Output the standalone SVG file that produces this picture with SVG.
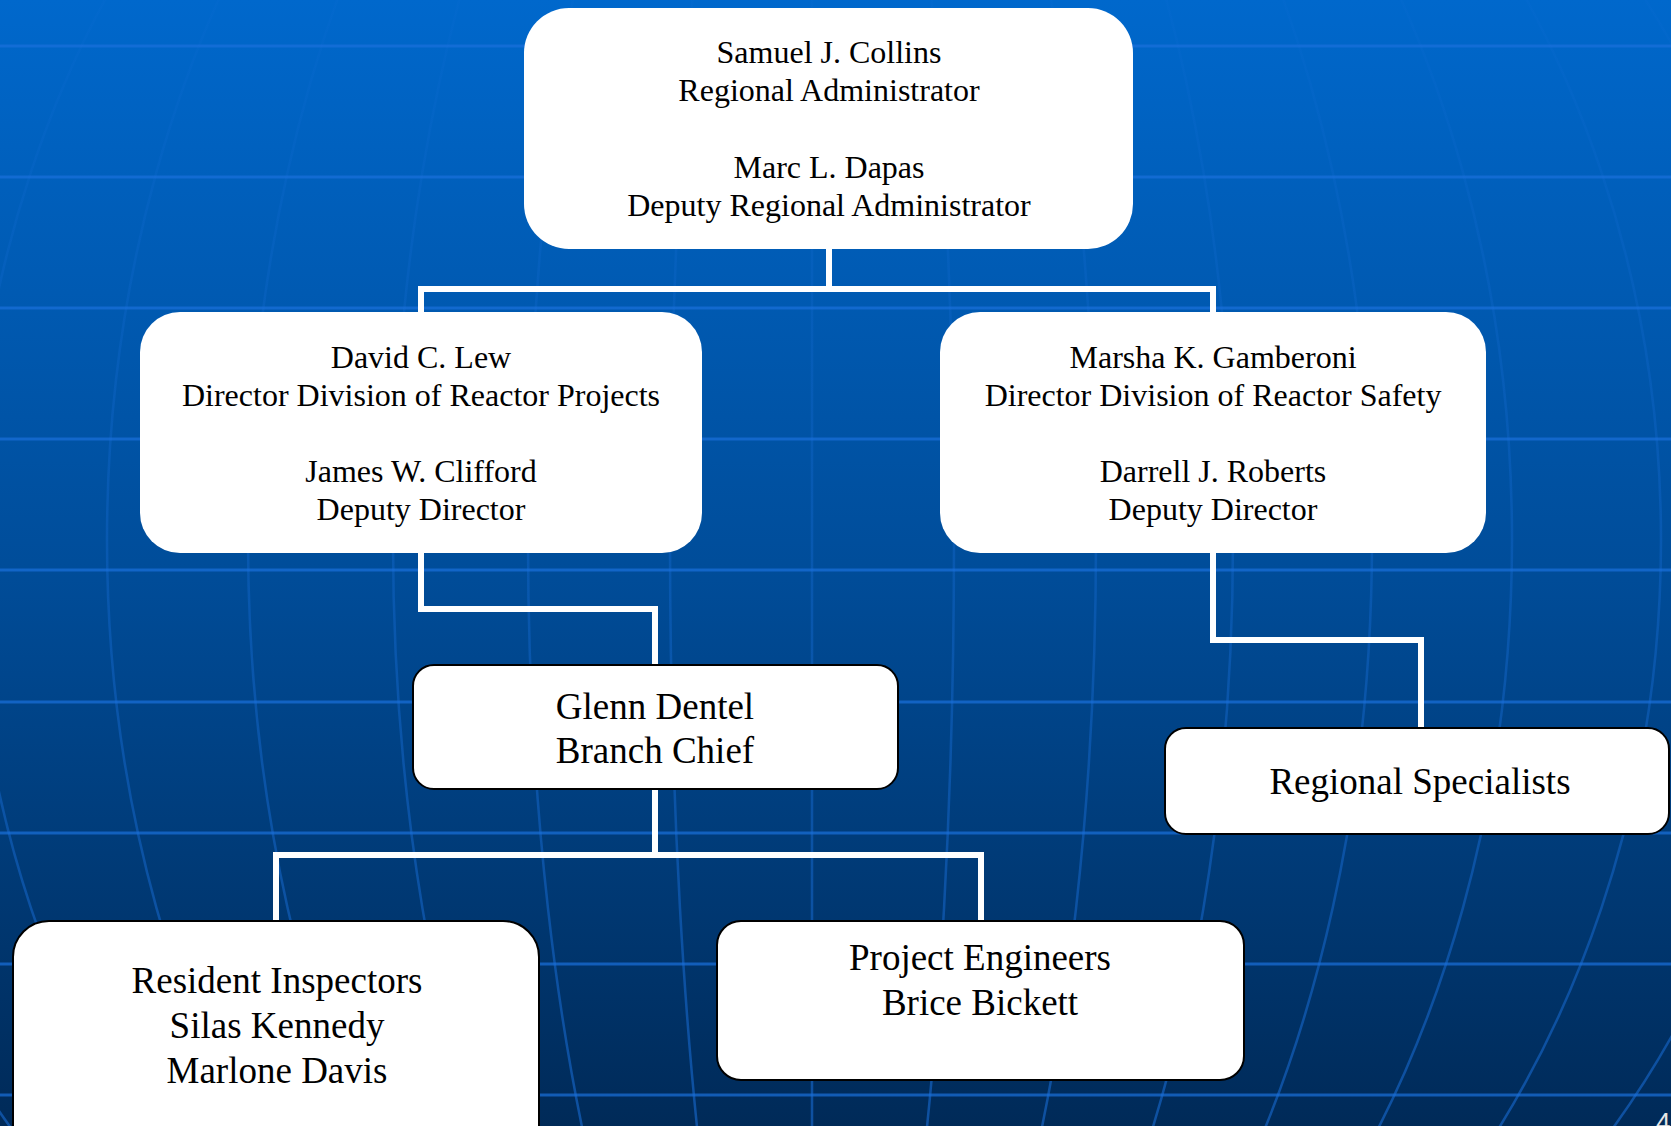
<svg xmlns="http://www.w3.org/2000/svg" width="1671" height="1126" viewBox="0 0 1671 1126">
<defs>
<linearGradient id="bg" x1="0" y1="0" x2="0" y2="1">
<stop offset="0" stop-color="#0068cc"/>
<stop offset="0.5" stop-color="#004d9a"/>
<stop offset="1" stop-color="#002a58"/>
</linearGradient>
<linearGradient id="mg" gradientUnits="userSpaceOnUse" x1="0" y1="0" x2="0" y2="1126">
<stop offset="0" stop-color="#1a70dc" stop-opacity="0.08"/>
<stop offset="0.45" stop-color="#1a70dc" stop-opacity="0.3"/>
<stop offset="1" stop-color="#1a70dc" stop-opacity="0.55"/>
</linearGradient>
<style>
.hl{stroke:#1a70dc;stroke-width:3;opacity:0.7;fill:none}
.mer{stroke:url(#mg);stroke-width:2.5;fill:none}
.conn{stroke:#ffffff;stroke-width:6;fill:none;stroke-linejoin:miter}
.box{fill:#ffffff}
.boxb{fill:#ffffff;stroke:#000000;stroke-width:2}
.t32{font-family:"Liberation Serif","Times New Roman",serif;font-size:32px;fill:#000;text-anchor:middle}
.t37{font-family:"Liberation Serif","Times New Roman",serif;font-size:37px;fill:#000;text-anchor:middle}
</style>
</defs>
<rect x="0" y="0" width="1671" height="1126" fill="url(#bg)"/>
<g id="background-grid">
<path class="hl" d="M0,46H1671M0,177H1671M0,308H1671M0,439H1671M0,570H1671M0,702H1671M0,833H1671M0,964H1671M0,1095H1671"/>
<path class="mer" d="M812,-460V1540"/>
<path class="mer" d="M812,-460A142,1000 0 0 1 812,1540M812,-460A284,1000 0 0 1 812,1540M812,-460A421,1000 0 0 1 812,1540M812,-460A560,1000 0 0 1 812,1540M812,-460A700,1000 0 0 1 812,1540M812,-460A849,1000 0 0 1 812,1540M812,-460A990,1000 0 0 1 812,1540"/>
<path class="mer" d="M812,-460A142,1000 0 0 0 812,1540M812,-460A284,1000 0 0 0 812,1540M812,-460A419,1000 0 0 0 812,1540M812,-460A564,1000 0 0 0 812,1540M812,-460A705,1000 0 0 0 812,1540M812,-460A840,1000 0 0 0 812,1540M812,-460A990,1000 0 0 0 812,1540"/>
</g>
<g id="connectors">
<path class="conn" d="M829,249V289"/>
<path class="conn" d="M421,312V289H1213V312"/>
<path class="conn" d="M421,553V609H655V665"/>
<path class="conn" d="M655,789V855"/>
<path class="conn" d="M276,921V855H981V921"/>
<path class="conn" d="M1213,553V640H1421V728"/>
</g>
<g id="node-collins">
<rect class="box" x="524" y="8" width="609" height="241" rx="45" ry="45"/>
<text class="t32" x="829" y="63">Samuel J. Collins</text>
<text class="t32" x="829" y="101">Regional Administrator</text>
<text class="t32" x="829" y="178">Marc L. Dapas</text>
<text class="t32" x="829" y="216">Deputy Regional Administrator</text>
</g>
<g id="node-lew">
<rect class="box" x="140" y="312" width="562" height="241" rx="40" ry="40"/>
<text class="t32" x="421" y="368">David C. Lew</text>
<text class="t32" x="421" y="406">Director Division of Reactor Projects</text>
<text class="t32" x="421" y="482">James W. Clifford</text>
<text class="t32" x="421" y="520">Deputy Director</text>
</g>
<g id="node-gamberoni">
<rect class="box" x="940" y="312" width="546" height="241" rx="40" ry="40"/>
<text class="t32" x="1213" y="368">Marsha K. Gamberoni</text>
<text class="t32" x="1213" y="406">Director Division of Reactor Safety</text>
<text class="t32" x="1213" y="482">Darrell J. Roberts</text>
<text class="t32" x="1213" y="520">Deputy Director</text>
</g>
<g id="node-dentel">
<rect class="boxb" x="413" y="665" width="485" height="124" rx="21" ry="21"/>
<text class="t37" x="655" y="719">Glenn Dentel</text>
<text class="t37" x="655" y="763">Branch Chief</text>
</g>
<g id="node-specialists">
<rect class="boxb" x="1165" y="728" width="504" height="106" rx="21" ry="21"/>
<text class="t37" x="1420" y="794">Regional Specialists</text>
</g>
<g id="node-resident">
<rect class="boxb" x="13" y="921" width="526" height="240" rx="36" ry="36"/>
<text class="t37" x="277" y="993">Resident Inspectors</text>
<text class="t37" x="277" y="1038">Silas Kennedy</text>
<text class="t37" x="277" y="1083">Marlone Davis</text>
</g>
<g id="node-engineers">
<rect class="boxb" x="717" y="921" width="527" height="159" rx="24" ry="24"/>
<text class="t37" x="980" y="970">Project Engineers</text>
<text class="t37" x="980" y="1015">Brice Bickett</text>
</g>
<text x="1656" y="1131" font-family="Liberation Sans, Arial, sans-serif" font-size="26" fill="#e6e6e6">4</text>
</svg>
